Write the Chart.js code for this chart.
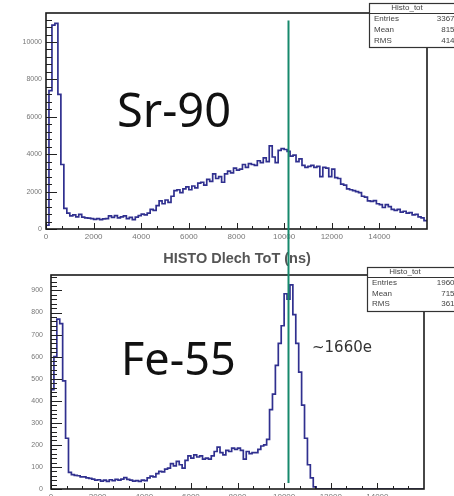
<!DOCTYPE html>
<html><head><meta charset="utf-8">
<script src="https://cdn.jsdelivr.net/npm/chart.js@4.4.1/dist/chart.umd.min.js"></script>
<style>
html,body{margin:0;padding:0;background:#fff;}
body{width:454px;height:496px;overflow:hidden;position:relative;}
canvas{filter:blur(0.35px);}
#c1{position:absolute;left:0;top:0;}
#c2{position:absolute;left:0;top:250px;}
</style></head><body>
<canvas id="c1" width="454" height="250"></canvas>
<canvas id="c2" width="454" height="260"></canvas>
<script>
// ---- data ----
const binWidth = 125; // ns per bin, 128 bins over 0..16000
const sr90Counts = [
  200,7400,10900,11000,7200,3450,1100,850,700,760,
  650,780,640,600,580,560,520,560,500,540,
  560,700,620,720,600,650,700,560,620,500,
  640,720,800,760,850,1050,1000,1250,1500,1350,
  1550,1420,1750,2050,2100,1950,2150,2250,2100,2300,
  2200,2450,2500,2350,2650,2550,2950,2700,2800,2500,
  2950,3100,3000,3250,3150,3200,3450,3300,3500,3450,
  3400,3650,3550,3800,3600,4450,3850,3550,4200,4300,
  4250,4150,3900,3950,3600,3750,3400,3300,3350,3400,
  3300,3350,2800,3300,3250,2800,3200,2750,2700,2400,
  2350,2150,2100,2050,2000,1950,1750,1700,1500,1480,
  1520,1350,1300,1150,1300,1200,1050,1000,1050,900,
  950,850,880,750,780,650,600,450
];
const fe55Counts = [
  450,600,770,750,490,230,75,65,62,60,
  55,55,50,48,45,40,42,36,40,35,
  42,38,44,40,45,52,44,40,36,38,
  35,40,38,50,58,55,70,80,78,90,
  95,115,105,125,110,95,130,150,140,155,
  145,150,135,140,135,150,170,190,165,155,
  175,170,185,180,185,175,135,170,160,165,
  165,180,195,200,225,360,430,560,660,740,
  885,860,925,790,660,530,380,230,110,50,
  10,0,0,0,0,0,0,0,0,0,
  0,0,0,0,0,0,0,0,0,0,
  0,0,0,0,0,0,0,0,0,0,
  0,0,0,0,0,0,0,0
];
const xTickValues = [0,2000,4000,6000,8000,10000,12000,14000];
const sr90YTicks = [0,2000,4000,6000,8000,10000];
const fe55YTicks = [0,100,200,300,400,500,600,700,800,900];
const statLabels = ['Entries','Mean','RMS'];
const sr90StatValues = ['33674','8159','4146'];
const fe55StatValues = ['19603','7157','3619'];
const histName = 'Histo_tot';
const markerValue = 10180; // green marker line (ns)

function toPoints(counts){
  const pts=[{x:0,y:0}];
  counts.forEach((c,i)=>pts.push({x:i*binWidth,y:c}));
  pts.push({x:counts.length*binWidth,y:counts[counts.length-1]});
  return pts;
}

function decoPlugin(cfg){
  return {
    id:'rootDeco'+cfg.key,
    afterDatasetsDraw(chart){
      const {ctx, chartArea:a} = chart;
      const xs = chart.scales.x, ys = chart.scales.y;
      ctx.save();
      ctx.strokeStyle='#222'; ctx.lineWidth=1;
      const nx = Math.round(xs.max/(2000/3));
      for(let k=0;k<=nx;k++){
        const px = Math.round(xs.getPixelForValue(k*2000/3))+0.5;
        if(px>a.right) break;
        const len = (k%3===0)?6:3;
        ctx.beginPath(); ctx.moveTo(px,a.bottom); ctx.lineTo(px,a.bottom-len); ctx.stroke();
      }
      for(let k=0;k*cfg.yMinor<=ys.max;k++){
        const py = Math.round(ys.getPixelForValue(k*cfg.yMinor))+0.5;
        const len = (k%5===0)?11:6;
        ctx.beginPath(); ctx.moveTo(a.left,py); ctx.lineTo(a.left+len,py); ctx.stroke();
      }
      ctx.strokeStyle='#1a1a1a'; ctx.lineWidth=1.6;
      ctx.strokeRect(a.left, a.top, a.right-a.left, a.bottom-a.top);
      ctx.fillStyle='#111';
      ctx.font = cfg.bigFont;
      ctx.textBaseline='alphabetic'; ctx.textAlign='left';
      ctx.fillText(cfg.bigText, cfg.bigX, cfg.bigY);
      if(cfg.note){
        ctx.font='15px "DejaVu Sans"'; ctx.fillStyle='#333';
        ctx.fillText(cfg.note, cfg.noteX, cfg.noteY);
      }
      if(cfg.title){
        ctx.font='bold 14.5px "Liberation Sans"'; ctx.fillStyle='#555';
        ctx.textAlign='center'; ctx.textBaseline='middle';
        ctx.fillText(cfg.title, 237, cfg.titleY);
      }
      const b = cfg.box;
      ctx.fillStyle='#fff'; ctx.fillRect(b.x, b.y, 120, b.h);
      ctx.strokeStyle='#333'; ctx.lineWidth=1.2;
      ctx.strokeRect(b.x+0.5, b.y+0.5, 120, b.h);
      ctx.beginPath(); ctx.moveTo(b.x, b.sep+0.5); ctx.lineTo(b.x+120, b.sep+0.5); ctx.stroke();
      ctx.fillStyle='#444'; ctx.font='8px "Liberation Sans"'; ctx.textBaseline='middle';
      ctx.textAlign='center'; ctx.fillText(histName, b.x+38, b.headY);
      statLabels.forEach((l,i)=>{
        ctx.textAlign='left'; ctx.fillText(l, b.x+5, b.rowY[i]);
        ctx.textAlign='right'; ctx.fillText(cfg.stats[i], 459, b.rowY[i]);
      });
      ctx.strokeStyle='#17896c'; ctx.lineWidth=2;
      const gx = Math.round(xs.getPixelForValue(markerValue))+0.5;
      ctx.beginPath();
      ctx.moveTo(gx, cfg.lineTop(ys)); ctx.lineTo(gx, cfg.lineBottom(ys, chart));
      ctx.stroke();
      ctx.restore();
    }
  };
}

function makeChart(id, counts, yMax, yTicks, padRight, padTop, yWidth, yPad, cfg){
  return new Chart(document.getElementById(id), {
    type:'line',
    data:{datasets:[{data:toPoints(counts), stepped:true, borderColor:'#30308f', borderWidth:1.7,
      pointRadius:0, fill:false, tension:0}]},
    options:{
      responsive:false, animation:false, devicePixelRatio:1,
      layout:{padding:{left:0,right:padRight,top:padTop,bottom:0}},
      plugins:{legend:{display:false}, tooltip:{enabled:false}},
      scales:{
        x:{type:'linear', min:0, max:16000,
          grid:{display:false, drawTicks:false}, border:{display:false},
          afterBuildTicks:s=>{s.ticks=xTickValues.map(v=>({value:v}));},
          afterFit:s=>{s.height=21;},
          ticks:{autoSkip:false, maxRotation:0, padding:3, color:'#777',
            font:{family:'Liberation Sans', size:8}, callback:v=>String(v)}},
        y:{type:'linear', min:0, max:yMax,
          grid:{display:false, drawTicks:false}, border:{display:false},
          afterBuildTicks:s=>{s.ticks=yTicks.map(v=>({value:v}));},
          afterFit:s=>{s.width=yWidth;},
          ticks:{padding:yPad, color:'#777', font:{family:'Liberation Sans', size:7}, callback:v=>String(v)}}
      }
    },
    plugins:[decoPlugin(cfg)]
  });
}

makeChart('c1', sr90Counts, 11550, sr90YTicks, 27, 13, 46, 4, {
  key:'a', yMinor:400, bigText:'Sr-90', bigFont:'47px "Noto Sans"', bigX:117, bigY:127,
  box:{x:369, y:3, h:44, sep:13, headY:8, rowY:[19,30,41]}, stats:sr90StatValues,
  lineTop:ys=>ys.getPixelForValue(11150), lineBottom:(ys,ch)=>ch.height
});
makeChart('c2', fe55Counts, 970, fe55YTicks, 30, 25, 51, 8, {
  key:'b', yMinor:20, bigText:'Fe-55', bigFont:'45px "Noto Sans"', bigX:121, bigY:125,
  note:'~1660e', noteX:312, noteY:102, title:'HISTO Dlech ToT (ns)', titleY:9,
  box:{x:367, y:17, h:44, sep:27, headY:22, rowY:[33,44,54]}, stats:fe55StatValues,
  lineTop:ys=>0, lineBottom:(ys,ch)=>ys.getPixelForValue(27)
});
</script>
</body></html>
